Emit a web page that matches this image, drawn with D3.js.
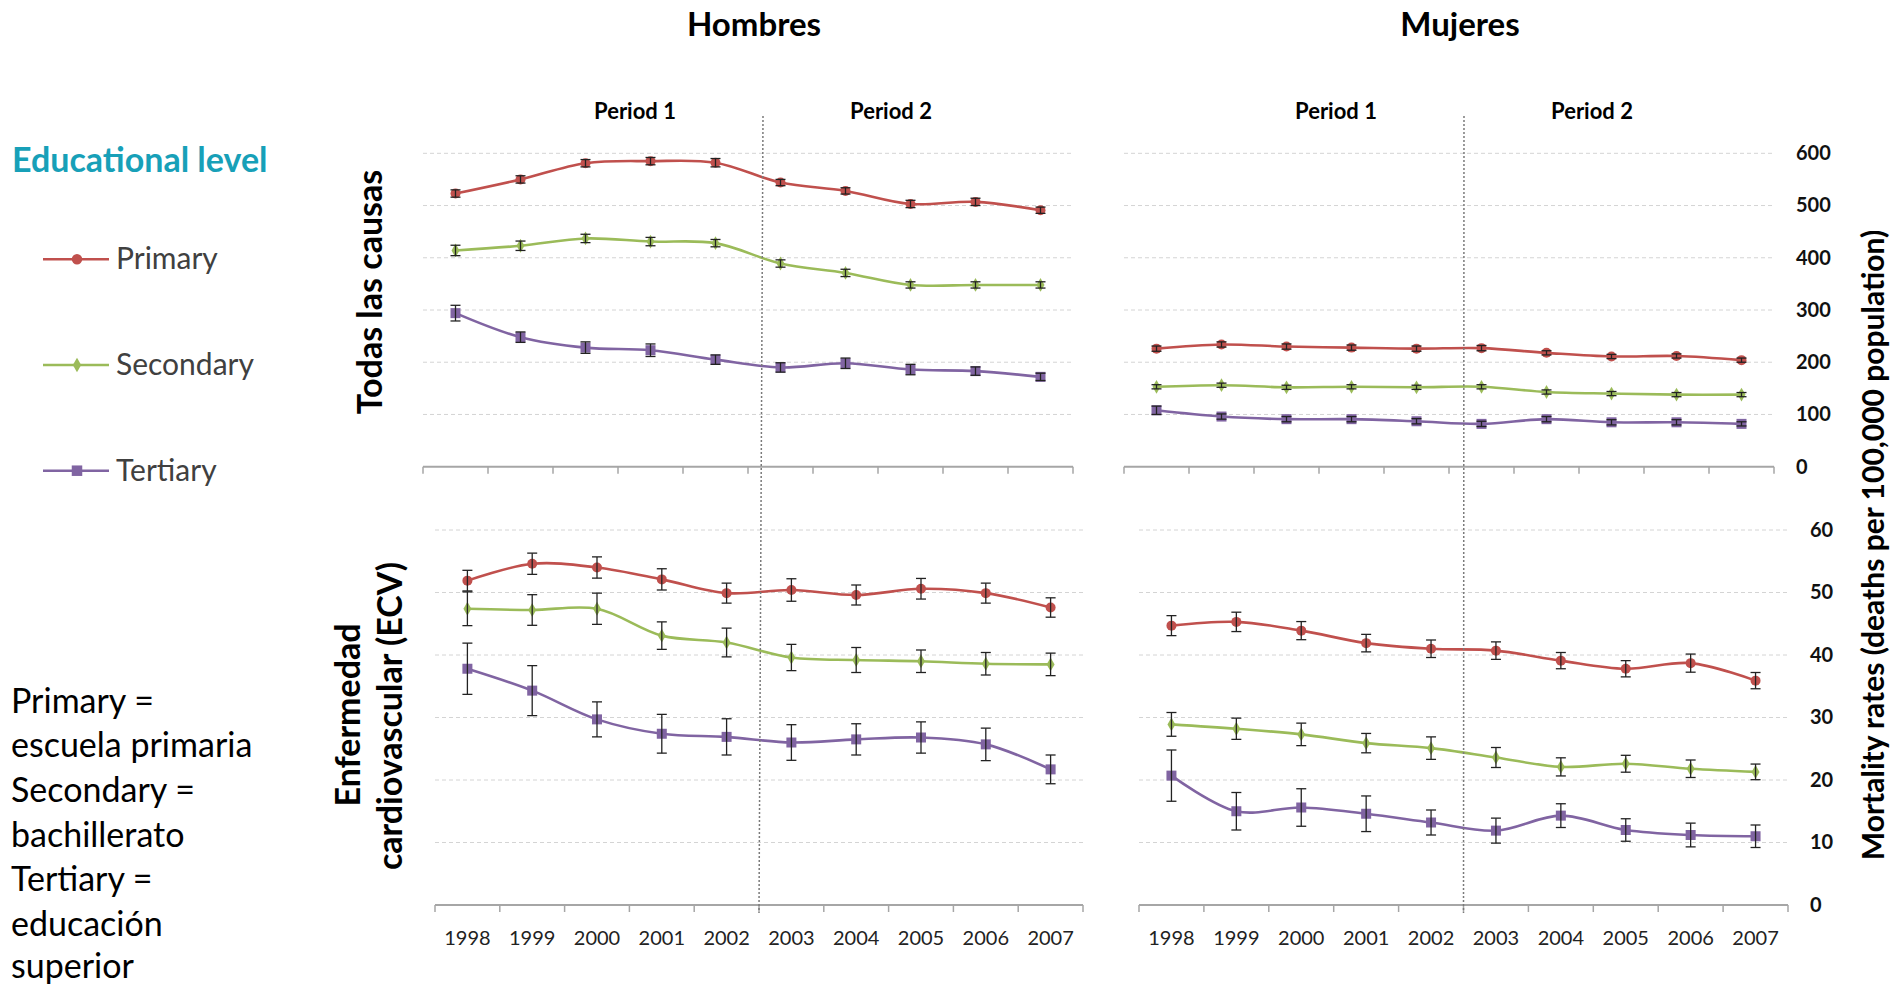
<!DOCTYPE html>
<html><head><meta charset="utf-8">
<script src="https://cdn.jsdelivr.net/npm/d3@7"></script>
<style>body{margin:0;background:#fff;} svg{display:block;}</style>
</head><body>
<svg id="c" width="1892" height="996"></svg>
<script>
// ---------- DATA ----------
const years = ["1998","1999","2000","2001","2002","2003","2004","2005","2006","2007"];
const levels = ["Primary","Secondary","Tertiary"];
const todasTicks = [0,100,200,300,400,500,600];
const ecvTicks = [0,10,20,30,40,50,60];

// Hombres – Todas las causas
const hTodasPrimary      = [523,550,581,585,582,544,528,503,507,491];
const hTodasPrimaryErr   = [7,7,7,7,8,6,6,7,7,6];
const hTodasSecondary    = [414,423,437,431,428,389,371,348,348,348];
const hTodasSecondaryErr = [10,9,8,8,7,7,7,6,6,6];
const hTodasTertiary     = [294,248,228,223,205,190,198,186,183,172];
const hTodasTertiaryErr  = [15,10,11,12,9,9,10,10,8,7];
// Mujeres – Todas las causas
const mTodasPrimary      = [226,234,230,228,226,227,218,211,212,204];
const mTodasPrimaryErr   = [5,5,5,5,5,5,4,4,4,4];
const mTodasSecondary    = [153,156,152,153,152,153,143,140,138,138];
const mTodasSecondaryErr = [4,4,4,4,4,4,4,4,4,4];
const mTodasTertiary     = [108,96,91,91,87,82,91,85,85,82];
const mTodasTertiaryErr  = [8,5,5,5,5,5,5,5,5,4];
// Hombres – ECV
const hEcvPrimary      = [51.9,54.6,54.0,52.1,49.9,50.4,49.6,50.6,49.9,47.6];
const hEcvPrimaryErr   = [1.65,1.7,1.7,1.7,1.6,1.8,1.6,1.65,1.6,1.55];
const hEcvSecondary    = [47.4,47.2,47.4,43.1,42.0,39.6,39.2,39.0,38.6,38.5];
const hEcvSecondaryErr = [2.7,2.45,2.5,2.2,2.3,2.1,2.0,1.8,1.8,1.8];
const hEcvTertiary     = [37.8,34.3,29.7,27.4,26.9,26.0,26.5,26.8,25.7,21.7];
const hEcvTertiaryErr  = [4.1,4.0,2.8,3.1,2.9,2.85,2.5,2.5,2.6,2.3];
// Mujeres – ECV
const mEcvPrimary      = [44.7,45.3,43.9,41.9,41.0,40.7,39.1,37.8,38.7,35.9];
const mEcvPrimaryErr   = [1.6,1.55,1.45,1.4,1.4,1.4,1.3,1.3,1.45,1.3];
const mEcvSecondary    = [28.9,28.2,27.3,25.9,25.1,23.6,22.1,22.6,21.8,21.3];
const mEcvSecondaryErr = [1.9,1.7,1.8,1.55,1.8,1.6,1.45,1.35,1.4,1.25];
const mEcvTertiary     = [20.7,15.0,15.6,14.6,13.2,11.9,14.3,12.0,11.2,11.0];
const mEcvTertiaryErr  = [4.1,3.0,3.0,2.85,2.0,2.0,1.9,1.8,1.9,1.8];

const colTitles = ["Hombres","Mujeres"];
const periodLabels = ["Period 1","Period 2"];
const noteLines = ["Primary =","escuela primaria","Secondary =","bachillerato","Tertiary =","educación","superior"];

// ---------- STYLE / LAYOUT ----------
const colors = {Primary:"#c0504d", Secondary:"#9bbb59", Tertiary:"#8064a2"};
const markers = {Primary:"circle", Secondary:"diamond", Tertiary:"square"};
const svg = d3.select("#c");

const panels = [
  {x0:423, x1:1073, yT:153.3, yB:466.7, ticks:todasTicks, yLabels:false, xLabels:false,
   vals:[hTodasPrimary,hTodasSecondary,hTodasTertiary], errs:[hTodasPrimaryErr,hTodasSecondaryErr,hTodasTertiaryErr]},
  {x0:1124, x1:1774, yT:153.3, yB:466.7, ticks:todasTicks, yLabels:true, xLabels:false,
   vals:[mTodasPrimary,mTodasSecondary,mTodasTertiary], errs:[mTodasPrimaryErr,mTodasSecondaryErr,mTodasTertiaryErr]},
  {x0:435, x1:1083, yT:530, yB:905, ticks:ecvTicks, yLabels:false, xLabels:true,
   vals:[hEcvPrimary,hEcvSecondary,hEcvTertiary], errs:[hEcvPrimaryErr,hEcvSecondaryErr,hEcvTertiaryErr]},
  {x0:1139, x1:1788, yT:530, yB:905, ticks:ecvTicks, yLabels:true, xLabels:true,
   vals:[mEcvPrimary,mEcvSecondary,mEcvTertiary], errs:[mEcvPrimaryErr,mEcvSecondaryErr,mEcvTertiaryErr]}
];

function drawMarker(g, type, cx, cy, color, scale){
  scale = scale || 1;
  if(type==="circle") g.append("circle").attr("cx",cx).attr("cy",cy).attr("r",5*scale).attr("fill",color);
  else if(type==="diamond") g.append("path").attr("d", d3.symbol().type(d3.symbolDiamond).size(55*scale*scale)()).attr("transform",`translate(${cx},${cy})`).attr("fill",color);
  else g.append("rect").attr("x",cx-5*scale).attr("y",cy-5*scale).attr("width",10*scale).attr("height",10*scale).attr("fill",color);
}

panels.forEach(p=>{
  const x = d3.scaleBand().domain(years).range([p.x0,p.x1]).padding(0);
  const y = d3.scaleLinear().domain([0,d3.max(p.ticks)]).range([p.yB,p.yT]);
  p.x = x; p.y = y;
  const g = svg.append("g");
  // gridlines
  g.selectAll("line.grid").data(p.ticks.filter(t=>t>0)).join("line")
    .attr("x1",p.x0).attr("x2",p.x1).attr("y1",d=>y(d)).attr("y2",d=>y(d))
    .attr("stroke","#d4d4d4").attr("stroke-width",1).attr("stroke-dasharray","4,3");
  // x axis line + boundary ticks
  g.append("line").attr("x1",p.x0).attr("x2",p.x1).attr("y1",p.yB).attr("y2",p.yB)
    .attr("stroke","#a6a6a6").attr("stroke-width",2);
  const bounds = years.map(yr=>x(yr)).concat([p.x1]);
  g.selectAll("line.tk").data(bounds).join("line")
    .attr("x1",d=>d).attr("x2",d=>d).attr("y1",p.yB).attr("y2",p.yB+7)
    .attr("stroke","#a6a6a6").attr("stroke-width",1.5);
  if(p.xLabels){
    const ax = g.append("g").attr("transform",`translate(0,${p.yB})`)
      .call(d3.axisBottom(x).tickSize(0).tickPadding(25.5));
    ax.select(".domain").remove();
    ax.selectAll("text").attr("font-family","Lato").attr("font-size",20).attr("fill","#222");
  }
  if(p.yLabels){
    const ay = g.append("g").attr("transform",`translate(${p.x1},0)`)
      .call(d3.axisRight(y).tickValues(p.ticks).tickSize(0).tickPadding(22));
    ay.select(".domain").remove();
    ay.selectAll("text").attr("font-family","Lato").attr("font-weight","bold").attr("font-size",20).attr("fill","#111");
  }
  const cx = i => x(years[i]) + x.bandwidth()/2;
  levels.forEach((lv,k)=>{
    const vals = p.vals[k], errs = p.errs[k], c = colors[lv];
    const line = d3.line().x((d,i)=>cx(i)).y(d=>y(d)).curve(d3.curveCatmullRom.alpha(0.5));
    g.append("path").attr("d",line(vals)).attr("fill","none").attr("stroke",c).attr("stroke-width",2.6);
    vals.forEach((v,i)=>drawMarker(g, markers[lv], cx(i), y(v), c));
    vals.forEach((v,i)=>{
      const yl = y(v-errs[i]), yh = y(v+errs[i]), xx = cx(i);
      g.append("line").attr("x1",xx).attr("x2",xx).attr("y1",yl).attr("y2",yh).attr("stroke","#222").attr("stroke-width",1.3);
      [yl,yh].forEach(yy=>g.append("line").attr("x1",xx-5).attr("x2",xx+5).attr("y1",yy).attr("y2",yy).attr("stroke","#222").attr("stroke-width",1.3));
    });
  });
});

// period divider lines (span top and bottom panel of each column)
[[panels[0],panels[2]],[panels[1],panels[3]]].forEach(([top,bot],ci)=>{
  const xt = top.x(years[5]) + 15, xb = bot.x(years[5]);
  svg.append("line").attr("x1",xt).attr("y1",116).attr("x2",xb).attr("y2",913)
    .attr("stroke","#7a7a7a").attr("stroke-width",1.5).attr("stroke-dasharray","2,2");
  [212,468].forEach((off,j)=>{
    svg.append("text").attr("x",top.x0+off).attr("y",119).attr("text-anchor","middle")
      .attr("font-family","Lato").attr("font-weight","bold").attr("font-size",22).attr("fill","#000")
      .text(periodLabels[j]);
  });
});

// column titles
[754,1460].forEach((cxT,i)=>{
  svg.append("text").attr("x",cxT).attr("y",36).attr("text-anchor","middle")
    .attr("font-family","Lato").attr("font-weight","bold").attr("font-size",33).attr("fill","#000").text(colTitles[i]);
});

// row labels
svg.append("text").attr("transform","translate(382,292) rotate(-90)").attr("text-anchor","middle")
  .attr("font-family","Lato").attr("font-weight","bold").attr("font-size",34).attr("fill","#000").text("Todas las causas");
svg.append("text").attr("transform","translate(360,715) rotate(-90)").attr("text-anchor","middle")
  .attr("font-family","Lato").attr("font-weight","bold").attr("font-size",34).attr("fill","#000").text("Enfermedad");
svg.append("text").attr("transform","translate(402,716) rotate(-90)").attr("text-anchor","middle")
  .attr("font-family","Lato").attr("font-weight","bold").attr("font-size",34).attr("fill","#000").text("cardiovascular (ECV)");
// y axis title
svg.append("text").attr("transform","translate(1884,545) rotate(-90)").attr("text-anchor","middle")
  .attr("font-family","Lato").attr("font-weight","bold").attr("font-size",30).attr("fill","#000")
  .text("Mortality rates (deaths per 100,000 population)");

// legend
svg.append("text").attr("x",12).attr("y",172).attr("font-family","Lato").attr("font-weight","bold")
  .attr("font-size",34).attr("fill","#17a0b8").text("Educational level");
const legY = [259.3,365,470.7];
levels.forEach((lv,k)=>{
  svg.append("line").attr("x1",43).attr("x2",109).attr("y1",legY[k]).attr("y2",legY[k]).attr("stroke",colors[lv]).attr("stroke-width",2.6);
  drawMarker(svg, markers[lv], 77, legY[k], colors[lv], 1.05);
  svg.append("text").attr("x",116).attr("y",legY[k]+10).attr("font-family","Lato").attr("font-size",30).attr("fill","#404040").text(lv);
});
// notes
const noteY = [713,757,802,847,891,936,978];
noteLines.forEach((t,i)=>{
  svg.append("text").attr("x",11).attr("y",noteY[i]).attr("font-family","Lato").attr("font-size",34).attr("fill","#000").text(t);
});
</script></body></html>
